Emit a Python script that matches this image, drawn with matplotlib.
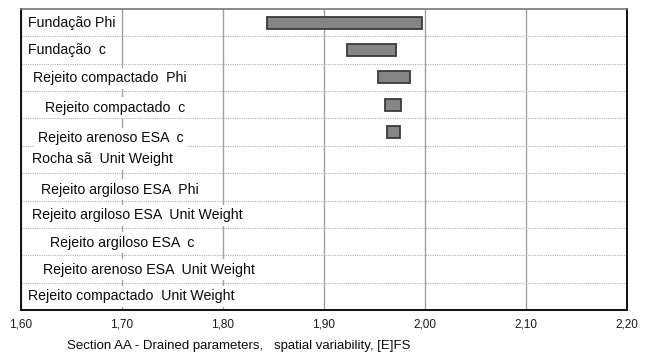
"""Tornado chart of FS range per parameter, Section AA (drained)."""
import matplotlib
matplotlib.use("Agg")
import matplotlib.pyplot as plt
from matplotlib.ticker import FixedLocator, FuncFormatter

plt.rcParams['font.family'] = ['Liberation Sans', 'DejaVu Sans']

# parameters, from top to bottom
params = [
    "Fundação Phi",
    "Fundação  c",
    "Rejeito compactado  Phi",
    "Rejeito compactado  c",
    "Rejeito arenoso ESA  c",
    "Rocha sã  Unit Weight",
    "Rejeito argiloso ESA  Phi",
    "Rejeito argiloso ESA  Unit Weight",
    "Rejeito argiloso ESA  c",
    "Rejeito arenoso ESA  Unit Weight",
    "Rejeito compactado  Unit Weight",
]
# FS at the low / high end of each parameter
fs_low = [1.844, 1.923, 1.953, 1.960, 1.962, 1.968, 1.968, 1.968, 1.968, 1.968, 1.968]
fs_high = [1.997, 1.971, 1.985, 1.976, 1.975, 1.968, 1.968, 1.968, 1.968, 1.968, 1.968]

xticks = [1.60, 1.70, 1.80, 1.90, 2.00, 2.10, 2.20]

# label placement inside the plot (pixels: right of the border, below row centre)
label_dx = [7, 7, 12, 24, 17, 11, 20, 11, 29, 22, 7]
label_dy = [0, 0, 1, 3, 6, 0, 3, 1, 1, 1, 0]

fig = plt.figure(figsize=(6.5, 3.56), dpi=100)
ax = fig.add_axes([21 / 650, 1 - 310 / 356, 606 / 650, 301 / 356])

n = len(params)
rows = list(range(n))
# only parameters that actually move the FS get a bar
drawn = [(r, l, h - l) for r, l, h in zip(rows, fs_low, fs_high) if h > l]
ax.barh([d[0] for d in drawn], [d[2] for d in drawn], left=[d[1] for d in drawn],
        height=0.44, color="#858585", edgecolor="#3a3a3a", linewidth=1.3, zorder=3)

ax.set_xlim(1.60, 2.20)
ax.set_ylim(n - 0.5, -0.5)

# grid: solid verticals, dotted row separators
ax.xaxis.set_major_locator(FixedLocator(xticks))
ax.xaxis.set_major_formatter(FuncFormatter(lambda v, p: f"{v:.2f}".replace(".", ",")))
ax.yaxis.set_major_locator(FixedLocator([r + 0.5 for r in rows[:-1]]))
ax.set_yticklabels([])
ax.grid(axis="x", color="#a0a0a0", linewidth=1.0, zorder=0)
ax.grid(axis="y", color="#b0b0b0", linewidth=0.8, linestyle=(0, (1, 1)), zorder=0)
ax.tick_params(axis="both", length=0)
ax.tick_params(axis="x", labelsize=8.5, pad=6, colors="#1a1a1a")

for side in ["left", "bottom", "right"]:
    ax.spines[side].set_color("#111111")
    ax.spines[side].set_linewidth(1.4)
ax.spines["top"].set_color("#777777")
ax.spines["top"].set_linewidth(1.2)

# parameter names drawn inside the plot on white boxes
for r, name, dx, dy in zip(rows, params, label_dx, label_dy):
    ax.annotate(name, xy=(0, r), xycoords=("axes fraction", "data"),
                xytext=(dx * 0.72, -dy * 0.72), textcoords="offset points",
                ha="left", va="center", fontsize=10.2, color="#0a0a0a",
                bbox=dict(facecolor="white", edgecolor="none", pad=2.5),
                zorder=4)

fig.text(67 / 650, 1 - 346 / 356,
         "Section AA - Drained parameters,   spatial variability, [E]FS",
         ha="left", va="center", fontsize=9.5, color="#0a0a0a")

fig.savefig("out.png", dpi=100)
